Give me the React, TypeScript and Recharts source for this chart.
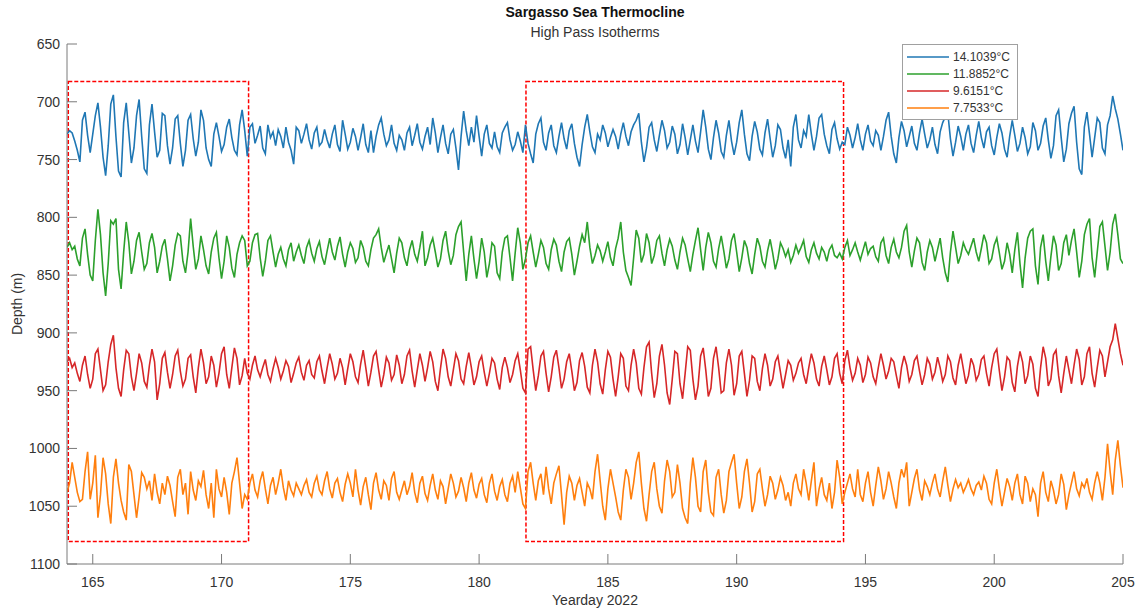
import { Legend, Line, LineChart, ReferenceArea, XAxis, YAxis } from "recharts";

// sampling grid of the isotherm records (yearday, 0.1 day steps)
const yeardayStart = 164;
const yeardayStep = 0.1;

const xTicks = [165, 170, 175, 180, 185, 190, 195, 200, 205];
const yTicks = [650, 700, 750, 800, 850, 900, 950, 1000, 1050, 1100];

// boxes around the two windows of interest
const windowDays = [
  [164.05, 171.05],
  [181.82, 194.15],
];
const windowDepth = [682.5, 1080.5];

const seriesNames = ["14.1039°C", "11.8852°C", "9.6151°C", "7.7533°C"];
const seriesColors = ["#1f77b4", "#2ca02c", "#d62728", "#ff7f0e"];

// depth (m) of each isotherm
const depth14 = [
  728, 725, 727, 734, 742, 752, 716, 709, 729, 744,
  728, 712, 701, 722, 748, 764, 738, 702, 694, 730,
  760, 765, 718, 701, 727, 753, 740, 712, 698, 730,
  758, 762, 720, 702, 726, 748, 742, 710, 712, 738,
  754, 740, 715, 712, 736, 756, 742, 716, 711, 732,
  747, 735, 707, 716, 740, 750, 756, 728, 718, 730,
  743, 737, 722, 715, 731, 742, 746, 720, 707, 725,
  747, 722, 719, 736, 729, 721, 740, 745, 720, 731,
  726, 738, 724, 730, 740, 722, 735, 742, 754, 722,
  725, 736, 728, 719, 733, 741, 727, 722, 738, 735,
  724, 733, 740, 728, 720, 737, 743, 716, 728, 741,
  735, 723, 730, 742, 731, 719, 737, 744, 725, 744,
  730, 720, 714, 728, 738, 733, 720, 736, 742, 729,
  733, 742, 727, 722, 738, 729, 719, 735, 741, 730,
  722, 737, 714, 727, 744, 731, 720, 736, 745, 728,
  724, 740, 759, 730, 708, 725, 738, 722, 735, 712,
  730, 747, 728, 720, 736, 740, 726, 739, 744, 727,
  722, 718, 733, 742, 737, 726, 734, 744, 720, 736,
  745, 753, 728, 719, 714, 735, 742, 727, 720, 738,
  744, 730, 718, 732, 741, 725, 719, 736, 748, 756,
  737, 722, 711, 726, 739, 744, 728, 733, 720, 727,
  739, 731, 724, 730, 741, 728, 718, 730, 738, 726,
  720, 716, 710, 735, 752, 740, 722, 718, 733, 743,
  729, 716, 725, 740, 735, 721, 728, 745, 737, 719,
  731, 746, 733, 720, 734, 744, 726, 707, 722, 741,
  750, 731, 716, 727, 743, 748, 729, 716, 734, 746,
  735, 718, 707, 728, 745, 751, 730, 717, 726, 741,
  746, 727, 715, 732, 748, 738, 720, 724, 740, 749,
  733, 756, 722, 711, 733, 740, 725, 730, 711, 728,
  742, 730, 714, 711, 728, 738, 745, 724, 718, 732,
  741, 735, 737, 722, 729, 740, 731, 719, 733, 742,
  728, 720, 734, 738, 725, 729, 742, 730, 716, 709,
  730, 745, 753, 731, 717, 725, 739, 730, 721, 736,
  742, 727, 715, 728, 740, 733, 722, 737, 745, 726,
  718, 713, 710, 732, 747, 735, 721, 730, 742, 728,
  720, 736, 744, 729, 717, 731, 740, 726, 722, 738,
  746, 731, 719, 727, 741, 748, 730, 716, 729, 743,
  736, 722, 731, 745, 739, 718, 725, 742, 736, 721,
  714, 733, 749, 738, 712, 707, 731, 752, 741, 719,
  710, 704, 735, 758, 763, 722, 709, 728, 748, 731,
  714, 718, 740, 745, 720, 712, 695, 706, 715, 728,
  742,
];

const depth11 = [
  826, 822, 828, 825, 836, 842, 818, 810, 832, 850,
  855, 820, 793, 815, 848, 868, 840, 803, 806, 801,
  845, 862, 830, 804, 822, 849, 838, 820, 813, 830,
  845, 840, 822, 814, 826, 848, 838, 825, 819, 836,
  855, 842, 824, 814, 816, 838, 848, 830, 801, 825,
  845, 836, 816, 828, 842, 849, 830, 818, 813, 835,
  853, 838, 816, 826, 844, 852, 832, 822, 816, 820,
  842, 838, 822, 815, 814, 835, 851, 838, 820, 816,
  830, 843, 832, 826, 836, 842, 828, 822, 838, 830,
  824, 833, 840, 826, 820, 831, 838, 827, 821, 834,
  841, 829, 818, 830, 837, 825, 817, 832, 843, 830,
  822, 827, 839, 835, 820, 826, 838, 842, 828, 818,
  815, 810, 826, 839, 831, 824, 836, 848, 831, 818,
  822, 835, 842, 828, 820, 832, 838, 826, 812, 842,
  835, 824, 818, 830, 843, 836, 820, 812, 829, 841,
  833, 815, 808, 804, 830, 855, 832, 816, 836, 853,
  838, 818, 830, 852, 840, 822, 825, 848, 853, 830,
  818, 816, 835, 855, 831, 809, 822, 845, 836, 822,
  816, 830, 843, 832, 820, 826, 840, 845, 828, 819,
  824, 838, 847, 830, 821, 818, 832, 850, 838, 825,
  815, 822, 804, 826, 840, 833, 824, 829, 838, 830,
  821, 835, 842, 827, 818, 804, 830, 846, 852, 859,
  835, 811, 818, 839, 832, 814, 822, 840, 833, 820,
  816, 831, 842, 828, 819, 825, 837, 845, 830, 818,
  824, 836, 847, 832, 820, 809, 828, 846, 826, 813,
  822, 838, 843, 827, 816, 829, 844, 836, 820, 814,
  830, 847, 835, 820, 826, 840, 849, 832, 818, 825,
  838, 843, 829, 819, 831, 845, 836, 822, 827, 834,
  828, 839, 833, 824, 831, 826, 820, 834, 839, 828,
  822, 831, 836, 826, 830, 838, 828, 824, 833, 835,
  831, 836, 826, 820, 833, 828, 822, 830, 837, 829,
  821, 832, 827, 825, 834, 838, 822, 818, 833, 840,
  826, 819, 830, 835, 826, 812, 807, 830, 843, 829,
  818, 822, 839, 846, 830, 820, 826, 838, 828, 818,
  835, 848, 856, 830, 812, 826, 840, 833, 822, 828,
  832, 825, 818, 830, 838, 827, 815, 822, 840, 836,
  824, 818, 831, 845, 838, 822, 832, 848, 828, 813,
  840, 861, 835, 818, 812, 810, 842, 858, 826, 815,
  838, 855, 834, 816, 824, 846, 840, 822, 815, 833,
  820, 810, 830, 852, 838, 815, 806, 801, 835, 852,
  830, 808, 804, 825, 846, 830, 806, 797, 815, 836,
  840,
];

const depth9 = [
  925, 922, 930, 926, 935, 942, 928, 920, 936, 948,
  940, 918, 914, 932, 950, 945, 925, 910, 902, 930,
  948, 955, 932, 915, 918, 938, 950, 935, 918, 926,
  942, 947, 928, 914, 925, 958, 944, 922, 917, 934,
  948, 936, 920, 915, 933, 946, 940, 922, 919, 938,
  952, 930, 914, 926, 944, 938, 920, 928, 947, 935,
  918, 912, 936, 948, 930, 913, 922, 945, 937, 922,
  935, 940, 928, 920, 932, 938, 930, 923, 936, 942,
  931, 922, 930, 940, 933, 924, 929, 943, 935, 926,
  921, 934, 941, 928, 924, 936, 939, 925, 920, 933,
  944, 930, 918, 927, 940, 935, 922, 930, 945, 931,
  918, 925, 938, 943, 927, 915, 930, 946, 934, 920,
  916, 932, 947, 936, 921, 926, 941, 936, 919, 928,
  944, 936, 920, 915, 933, 947, 932, 918, 928, 942,
  930, 916, 925, 942, 950, 931, 914, 922, 938, 946,
  932, 918, 924, 940, 944, 929, 917, 930, 945, 938,
  925, 920, 934, 946, 935, 922, 926, 940, 949, 930,
  921, 930, 943, 936, 924, 918, 932, 948, 952, 914,
  912, 932, 950, 937, 920, 916, 935, 951, 938, 921,
  915, 930, 948, 940, 925, 918, 933, 950, 943, 924,
  917, 929, 947, 952, 928, 914, 925, 944, 953, 932,
  916, 921, 940, 955, 938, 918, 922, 946, 950, 928,
  914, 926, 948, 953, 930, 912, 908, 935, 956, 944,
  920, 910, 928, 952, 962, 940, 916, 918, 944, 957,
  935, 912, 915, 940, 958, 946, 920, 913, 932, 955,
  948, 922, 912, 930, 952, 950, 926, 914, 928, 954,
  944, 920, 916, 935, 955, 941, 920, 922, 942, 950,
  931, 918, 928, 946, 940, 925, 920, 934, 948, 936,
  924, 928, 941, 935, 926, 922, 936, 944, 930, 918,
  926, 940, 946, 929, 920, 932, 945, 938, 922, 918,
  935, 944, 924, 915, 930, 941, 935, 922, 928, 943,
  936, 921, 926, 938, 944, 930, 918, 928, 940, 933,
  922, 925, 937, 948, 930, 920, 928, 942, 936, 924,
  920, 933, 945, 936, 922, 927, 940, 934, 921, 930,
  942, 936, 920, 925, 939, 945, 928, 918, 931, 944,
  937, 922, 928, 941, 936, 923, 920, 935, 946, 930,
  918, 914, 933, 950, 938, 921, 924, 943, 951, 929,
  916, 925, 944, 937, 920, 927, 948, 955, 930, 912,
  922, 946, 940, 919, 915, 937, 952, 935, 920, 932,
  944, 928, 914, 923, 945, 938, 918, 912, 935, 947,
  930, 915, 920, 938, 925, 912, 906, 892, 905, 918,
  928,
];

const depth7 = [
  1038, 1030, 1012, 1025, 1038, 1046, 1044, 1020, 1003, 1044,
  1030, 1006, 1060, 1040, 1008, 1022, 1048, 1065, 1025, 1009,
  1030, 1045, 1055, 1062, 1014, 1020, 1040, 1060, 1042, 1021,
  1025, 1035, 1028, 1045, 1022, 1038, 1048, 1030, 1040, 1024,
  1032, 1046, 1059, 1025, 1018, 1040, 1030, 1057, 1020, 1036,
  1045, 1028, 1033, 1019, 1040, 1052, 1030, 1060, 1018, 1035,
  1042, 1025, 1038, 1057, 1030, 1020, 1008, 1030, 1052, 1040,
  1044, 1030, 1022, 1036, 1042, 1028, 1020, 1035, 1048, 1032,
  1025, 1040, 1030, 1018, 1034, 1045, 1028, 1036, 1041, 1030,
  1035, 1040, 1032, 1027, 1038, 1042, 1030, 1024, 1036, 1040,
  1028, 1020, 1035, 1043, 1030, 1026, 1038, 1046, 1031, 1022,
  1030, 1042, 1018, 1036, 1049, 1033, 1025, 1040, 1053, 1030,
  1021, 1036, 1044, 1028, 1032, 1045, 1026, 1020, 1038, 1044,
  1036, 1028, 1040, 1033, 1021, 1038, 1047, 1030, 1024, 1039,
  1045, 1032, 1022, 1036, 1044, 1028, 1033, 1048, 1035, 1022,
  1030, 1042, 1037, 1025, 1034, 1046, 1030, 1021, 1036, 1043,
  1031, 1026, 1040, 1047, 1030, 1022, 1037, 1045, 1033, 1027,
  1040, 1046, 1030, 1024, 1038, 1020, 1034, 1048, 1052, 1020,
  1012, 1030, 1045, 1028, 1022, 1040, 1016, 1035, 1048, 1030,
  1022, 1015, 1040, 1066, 1038, 1024, 1030, 1045, 1032, 1026,
  1038, 1050, 1030, 1035, 1044, 1020, 1005, 1028, 1050, 1062,
  1035, 1018, 1030, 1042, 1055, 1062, 1036, 1018, 1025, 1044,
  1030, 1012, 1003, 1030, 1052, 1063, 1040, 1020, 1012, 1035,
  1050, 1056, 1028, 1010, 1020, 1042, 1038, 1014, 1030, 1052,
  1060, 1065, 1030, 1008, 1025, 1050, 1055, 1020, 1010, 1038,
  1055, 1058, 1025, 1018, 1040, 1056, 1045, 1020, 1012, 1005,
  1030, 1052, 1042, 1020, 1009, 1030, 1055, 1046, 1022, 1018,
  1035, 1050, 1040, 1024, 1030, 1044, 1036, 1025, 1032, 1045,
  1038, 1050, 1030, 1022, 1035, 1040, 1018, 1030, 1045, 1028,
  1012, 1050, 1035, 1025, 1040, 1045, 1030, 1052, 1038, 1010,
  1025, 1048, 1038, 1030, 1022, 1035, 1042, 1018, 1040, 1046,
  1030, 1020, 1038, 1050, 1032, 1016, 1028, 1044, 1035, 1020,
  1030, 1042, 1052, 1030, 1018, 1025, 1012, 1050, 1038, 1026,
  1018, 1036, 1045, 1028, 1033, 1040, 1030, 1022, 1035, 1042,
  1028, 1016, 1032, 1046, 1035, 1027, 1034, 1030, 1038, 1033,
  1027, 1035, 1040, 1032, 1029, 1036, 1024, 1030, 1044, 1048,
  1030, 1018, 1035, 1050, 1038, 1026, 1033, 1045, 1030, 1022,
  1040, 1048, 1024, 1030, 1046, 1035, 1040, 1059, 1030, 1020,
  1038, 1046, 1028, 1036, 1048, 1040, 1022, 1031, 1053, 1040,
  1030, 1020, 1035, 1041, 1030, 1034, 1026, 1038, 1044, 1030,
  1020, 1030, 1045, 1025, 996, 1020, 1040, 1010, 993, 1015,
  1034,
];

const seriesKeys = ["d14", "d11", "d9", "d7"];
const seriesValues = [depth14, depth11, depth9, depth7];

const sampleCount = Math.min(...seriesValues.map((s) => s.length));
const rows = Array.from({ length: sampleCount }, (_, i) => {
  const row: Record<string, number> = {
    day: Number((yeardayStart + i * yeardayStep).toFixed(2)),
  };
  seriesKeys.forEach((key, k) => {
    row[key] = seriesValues[k][i];
  });
  return row;
});

const axisColor = "#7a7a7a";
const textColor = "#333333";
const font = '"Liberation Sans", Arial, sans-serif';

// legend in plotting order (Recharts sorts the payload by name otherwise)
function LegendBox({ payload }: { payload?: any[] }) {
  const names = (payload ?? []).map((entry) => String(entry.value));
  names.sort((a, b) => seriesNames.indexOf(a) - seriesNames.indexOf(b));
  return (
    <div
      style={{
        background: "#fff",
        border: "1px solid #a0a0a0",
        padding: "3px 6px 3px 4px",
        fontFamily: font,
        fontSize: 12,
        color: textColor,
      }}
    >
      {names.map((name) => (
        <div
          key={name}
          style={{ display: "flex", alignItems: "center", height: 17 }}
        >
          <svg width={42} height={4} style={{ marginRight: 4 }}>
            <line
              x1={0}
              y1={2}
              x2={42}
              y2={2}
              stroke={seriesColors[seriesNames.indexOf(name)]}
              strokeWidth={1.5}
            />
          </svg>
          <span>{name}</span>
        </div>
      ))}
    </div>
  );
}

export default function App() {
  return (
    <div
      style={{
        position: "absolute",
        left: 0,
        top: 0,
        width: 1140,
        height: 615,
        background: "#fff",
        fontFamily: font,
        color: textColor,
      }}
    >
      <div
        style={{
          position: "absolute",
          left: 67,
          width: 1056,
          top: 4,
          textAlign: "center",
          fontWeight: "bold",
          fontSize: 14,
          lineHeight: "17px",
          color: "#111",
        }}
      >
        Sargasso Sea Thermocline
      </div>
      <div
        style={{
          position: "absolute",
          left: 67,
          width: 1056,
          top: 24,
          textAlign: "center",
          fontSize: 14,
          lineHeight: "17px",
        }}
      >
        High Pass Isotherms
      </div>
      <div
        style={{
          position: "absolute",
          left: 67,
          width: 1056,
          top: 592,
          textAlign: "center",
          fontSize: 14,
          lineHeight: "17px",
        }}
      >
        Yearday 2022
      </div>
      <div
        style={{
          position: "absolute",
          left: 17,
          top: 304,
          fontSize: 14,
          lineHeight: "17px",
          whiteSpace: "nowrap",
          transform: "translate(-50%, -50%) rotate(-90deg)",
        }}
      >
        Depth (m)
      </div>
      <LineChart
        width={1140}
        height={615}
        data={rows}
        margin={{ top: 44, right: 17, bottom: 0, left: 7 }}
        style={{ fontFamily: font }}
      >
        <XAxis
          xAxisId="x"
          dataKey="day"
          type="number"
          domain={[164, 205]}
          ticks={xTicks}
          interval={0}
          allowDataOverflow
          height={51}
          tickSize={-10}
          tickMargin={23}
          stroke={axisColor}
          tick={{ fill: textColor, fontSize: 14 }}
        />
        <XAxis
          xAxisId="top"
          orientation="top"
          type="number"
          domain={[164, 205]}
          ticks={xTicks}
          interval={0}
          allowDataOverflow
          height={0}
          tickSize={-10}
          tick={false}
          stroke={axisColor}
        />
        <YAxis
          yAxisId="y"
          type="number"
          domain={[650, 1100]}
          ticks={yTicks}
          interval={0}
          reversed
          allowDataOverflow
          width={60}
          tickSize={-10}
          tickMargin={17}
          stroke={axisColor}
          tick={{ fill: textColor, fontSize: 14 }}
        />
        <YAxis
          yAxisId="r"
          orientation="right"
          type="number"
          domain={[650, 1100]}
          ticks={yTicks}
          interval={0}
          reversed
          allowDataOverflow
          width={0}
          tickSize={-10}
          tick={false}
          stroke={axisColor}
        />
        {seriesKeys.map((key, k) => (
          <Line
            key={key}
            xAxisId="x"
            yAxisId="y"
            type="linear"
            dataKey={key}
            name={seriesNames[k]}
            stroke={seriesColors[k]}
            strokeWidth={1.6}
            dot={false}
            isAnimationActive={false}
          />
        ))}
        {windowDays.map(([from, to]) => (
          <ReferenceArea
            key={from}
            xAxisId="x"
            yAxisId="y"
            x1={from}
            x2={to}
            y1={windowDepth[0]}
            y2={windowDepth[1]}
            fill="none"
            fillOpacity={0}
            stroke="#ff0000"
            strokeWidth={1.5}
            strokeDasharray="4 2"
            ifOverflow="visible"
          />
        ))}
        <Legend
          layout="vertical"
          align="center"
          verticalAlign="middle"
          content={<LegendBox />}
          wrapperStyle={{ left: 902, top: 44, width: 116 }}
        />
      </LineChart>
    </div>
  );
}
